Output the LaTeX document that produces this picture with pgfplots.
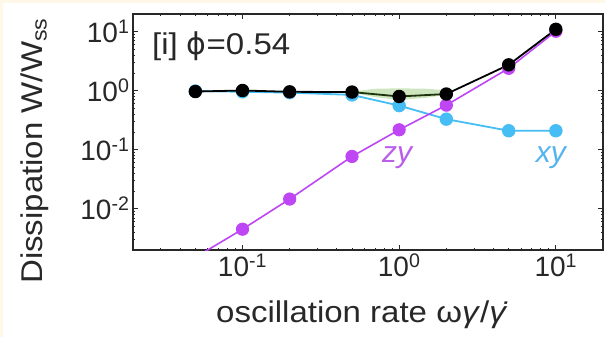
\documentclass[border=0pt]{standalone}
\usepackage{fontspec}
\setmainfont{Liberation Sans}
\newfontfamily\labelfont{Liberation Sans}[FakeStretch=1.1]
\newfontfamily\dejavu{DejaVu Sans}
\usepackage{pgfplots}
\pgfplotsset{compat=1.18}
\definecolor{cream}{RGB}{255,248,232}
\definecolor{purp}{RGB}{190,70,245}
\definecolor{skyb}{RGB}{70,190,245}
\definecolor{zylab}{RGB}{185,95,235}
\definecolor{xylab}{RGB}{85,180,240}
\definecolor{bandg}{RGB}{93,170,46}
\definecolor{axgray}{RGB}{40,40,40}
\begin{document}
\begin{tikzpicture}
\useasboundingbox (0,0) rectangle (605pt,337pt);
\fill[cream] (0,0) rectangle (605pt,337pt);
\fill[white] (3pt,0) rectangle (605pt,334pt);
\begin{axis}[
 at={(133pt,87pt)}, anchor=south west,
 scale only axis, width=470pt, height=236pt,
 xmode=log, ymode=log, xmin=0.02, xmax=20, ymin=0.002, ymax=20,
 axis line style={axgray, line width=1.4pt},
 tick style={axgray, line width=0.8pt},
 major tick length=5pt, minor tick length=2.5pt,
 tick align=inside,
 xtick={0.1,1,10},
 xticklabels={10\textsuperscript{-1},10\textsuperscript{0},10\textsuperscript{1}},
 minor xtick={0.02,0.03,0.04,0.05,0.06,0.07,0.08,0.09,0.2,0.3,0.4,0.5,0.6,0.7,0.8,0.9,2,3,4,5,6,7,8,9,20},
 ytick={0.01,0.1,1,10},
 yticklabels={10\textsuperscript{-2},10\textsuperscript{-1},10\textsuperscript{0},10\textsuperscript{1}},
 minor ytick={0.002,0.003,0.004,0.005,0.006,0.007,0.008,0.009,0.02,0.03,0.04,0.05,0.06,0.07,0.08,0.09,0.2,0.3,0.4,0.5,0.6,0.7,0.8,0.9,2,3,4,5,6,7,8,9,20},
 ticklabel style={font=\fontsize{28}{30}\selectfont, text=axgray},
 xlabel={oscillation rate ω\textit{γ}/\textit{γ̇}},
 ylabel={Dissipation W/W\textsubscript{ss}},
 label style={font=\labelfont\fontsize{30}{32}\selectfont, text=axgray},
 xlabel style={at={(axis description cs:0.487,-0.309)}, anchor=base},
 ylabel style={at={(axis description cs:-0.1915,0.42)}, anchor=base},
]
\addplot[skyb, line width=1.8pt, mark=*, mark size=5.8pt, mark options={fill=skyb, draw=skyb}]
 coordinates {(0.05,0.99)(0.1,0.96)(0.2,0.93)(0.5,0.85)(1,0.56)(2,0.33)(5,0.21)(10,0.21)};
\addplot[purp, line width=1.6pt, mark=*, mark size=5.8pt, mark options={fill=purp, draw=purp}]
 coordinates {(0.05,0.0015)(0.1,0.0045)(0.2,0.0146)(0.5,0.077)(1,0.218)(2,0.57)(5,2.4)(10,10.2)};
\addplot[black, line width=1.8pt, mark=*, mark size=5.8pt, mark options={fill=black, draw=black}]
 coordinates {(0.05,0.97)(0.1,1.01)(0.2,0.96)(0.5,0.95)(1,0.80)(2,0.88)(5,2.75)(10,11.0)};
\addplot[draw=none, fill=bandg, fill opacity=0.3]
 coordinates {(0.5,0.97)(0.7,1.08)(1,1.1)(1.5,1.08)(2,1.02)(2,0.86)(1.5,0.76)(1,0.70)(0.7,0.78)(0.5,0.93)} --cycle;
\node[zylab, font=\itshape\fontsize{30}{32}\selectfont] at (axis cs:0.97,0.073) {zy};
\node[xylab, font=\itshape\fontsize{30}{32}\selectfont] at (axis cs:9.3,0.073) {xy};
\node[anchor=base west, text=axgray, font=\labelfont\fontsize{30}{32}\selectfont, inner sep=0pt] at (axis cs:0.0264,4.07) {[i] {\dejavu ϕ}=0.54};
\end{axis}
\end{tikzpicture}
\end{document}
